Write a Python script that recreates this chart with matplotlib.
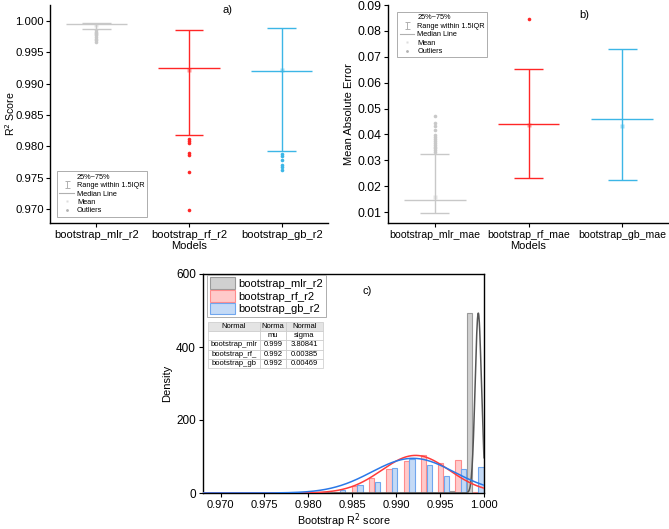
import numpy as np
import matplotlib
matplotlib.use("Agg")
import matplotlib.pyplot as plt
from matplotlib.patches import Patch
from matplotlib.lines import Line2D

plt.rcParams['font.family'] = ['Liberation Sans', 'DejaVu Sans']
plt.rcParams['axes.linewidth'] = 1.0

# ---------------- data: panel a (R2 box charts) ----------------
r2_models = ['bootstrap_mlr_r2', 'bootstrap_rf_r2', 'bootstrap_gb_r2']
r2_lower = [0.99867, 0.98176, 0.97920]
r2_median = [0.99947, 0.99245, 0.99207]
r2_upper = [0.99963, 0.99861, 0.99883]
r2_mean = [0.99935, 0.99218, 0.99225]
r2_out_mlr = [0.9985, 0.9983, 0.9981, 0.9979, 0.9977, 0.9975, 0.9972, 0.9969, 0.9966]
r2_out_rf = [0.9811, 0.9809, 0.9806, 0.9789, 0.9786, 0.9759, 0.9699]
r2_out_gb = [0.9788, 0.9784, 0.9779, 0.9771, 0.9767, 0.9762]

# ---------------- data: panel b (MAE box charts) ----------------
mae_models = ['bootstrap_mlr_mae', 'bootstrap_rf_mae', 'bootstrap_gb_mae']
mae_lower = [0.00962, 0.0233, 0.02256]
mae_median = [0.01453, 0.0439, 0.0458]
mae_upper = [0.03225, 0.0653, 0.0729]
mae_mean = [0.01582, 0.0435, 0.0431]
mae_out_mlr = [0.0472, 0.0443, 0.0433, 0.0417, 0.0396, 0.0390, 0.0382, 0.0374,
               0.0367, 0.0360, 0.0352, 0.0346, 0.0339, 0.0333]
mae_out_rf = [0.0844]
mae_out_gb = []

# ---------------- data: panel c (histograms + normal fits) ----------------
hist_labels = ['bootstrap_mlr_r2', 'bootstrap_rf_r2', 'bootstrap_gb_r2']
bin_edges = [0.98035, 0.98232, 0.98428, 0.98625, 0.98821, 0.99018,
             0.99214, 0.99411, 0.99607, 0.99804, 1.00000]
dens_mlr = [0, 0, 0, 0, 0, 0, 0, 0, 5, 493]
dens_rf = [2, 4, 20, 40, 65, 88, 104, 81, 90, 4]
dens_gb = [4, 8, 22, 30, 68, 93, 77, 47, 65, 72]
fit_mu = [0.99935, 0.9922, 0.9919]
fit_sigma = [0.00036, 0.00385, 0.00469]
fit_peak = [493, 103, 95]
table_rows = ['bootstrap_mlr', 'bootstrap_rf_', 'bootstrap_gb']
table_mu = ['0.999', '0.992', '0.992']
table_sigma = ['3.80841', '0.00385', '0.00469']

# ---------------- styles ----------------
box_colors = ['#c8c8c8', '#ff2626', '#3cb6e6']
W, H = 669, 529
fig = plt.figure(figsize=(W / 100, H / 100), dpi=100)


def fax(l, t, r, b):
    return fig.add_axes([l / W, 1 - b / H, (r - l) / W, (b - t) / H])


def box_chart(ax, lower, median, upper, mean, outliers, colors):
    for i in range(len(median)):
        c = colors[i]
        ax.vlines(i, lower[i], upper[i], color=c, lw=1.0, zorder=2)
        ax.hlines([lower[i], upper[i]], i - 0.155, i + 0.155, color=c, lw=1.0, zorder=2)
        ax.hlines(median[i], i - 0.33, i + 0.33, color=c, lw=1.0, zorder=3)
        ax.plot([i], [mean[i]], marker='s', ms=2.6, color=c, alpha=0.45, mec='none', zorder=4)
        if len(outliers[i]):
            ax.plot([i] * len(outliers[i]), outliers[i], 'o', ms=2.6, color=c, mec='none', zorder=4)


def box_legend(ax, **kw):
    eb = ax.errorbar([np.nan], [np.nan], yerr=[[1], [1]], fmt='none', ecolor='#b0b0b0',
                     capsize=1.8, elinewidth=0.7, capthick=0.7)
    handles = [Line2D([], [], color='none'),
               eb,
               Line2D([], [], color='#b0b0b0', lw=0.8),
               Line2D([], [], ls='none', marker='s', ms=2, color='#dddddd', mec='none'),
               Line2D([], [], ls='none', marker='o', ms=2, color='#b0b0b0', mec='none')]
    labels = ['25%~75%', 'Range within 1.5IQR', 'Median Line', 'Mean', 'Outliers']
    leg = ax.legend(handles, labels, fontsize=5.3, frameon=True, fancybox=False,
                    edgecolor='#a0a0a0', framealpha=1, handlelength=2.0,
                    handletextpad=0.4, labelspacing=0.18, borderpad=0.3, **kw)
    leg.get_frame().set_linewidth(0.6)
    return leg


# ---------------- panel a ----------------
axa = fax(50, 5, 328, 223)
box_chart(axa, r2_lower, r2_median, r2_upper, r2_mean,
          [r2_out_mlr, r2_out_rf, r2_out_gb], box_colors)
axa.set_xlim(-0.5, 2.5)
axa.set_ylim(0.96777, 1.00255)
axa.set_yticks([0.970, 0.975, 0.980, 0.985, 0.990, 0.995, 1.000])
axa.set_yticklabels(['0.970', '0.975', '0.980', '0.985', '0.990', '0.995', '1.000'])
axa.set_xticks(range(3))
axa.set_xticklabels(r2_models)
axa.spines['top'].set_visible(False)
axa.spines['right'].set_visible(False)
axa.tick_params(length=3, width=0.8, pad=2)
axa.tick_params(axis='x', labelsize=8)
axa.tick_params(axis='y', labelsize=8.2, pad=1.5)
axa.set_ylabel('R$^2$ Score', fontsize=7.6)
axa.yaxis.set_label_coords(-0.118, 0.5)
axa.set_xlabel('Models', fontsize=8, labelpad=1)
axa.text(0.637, 0.975, 'a)', transform=axa.transAxes, fontsize=8, ha='center', va='center')
box_legend(axa, loc='lower left', bbox_to_anchor=(0.012, 0.012))

# ---------------- panel b ----------------
axb = fax(388, 5, 669, 223)
box_chart(axb, mae_lower, mae_median, mae_upper, mae_mean,
          [mae_out_mlr, mae_out_rf, mae_out_gb], box_colors)
axb.set_xlim(-0.5, 2.5)
axb.set_ylim(0.00575, 0.09)
axb.set_yticks([0.01, 0.02, 0.03, 0.04, 0.05, 0.06, 0.07, 0.08, 0.09])
axb.set_yticklabels(['0.01', '0.02', '0.03', '0.04', '0.05', '0.06', '0.07', '0.08', '0.09'])
axb.set_xticks(range(3))
axb.set_xticklabels(mae_models)
axb.spines['top'].set_visible(False)
axb.spines['right'].set_visible(False)
axb.tick_params(length=3, width=0.8, pad=2)
axb.tick_params(axis='x', labelsize=7.6)
axb.tick_params(axis='y', labelsize=8.8)
axb.set_ylabel('Mean Absolute Error', fontsize=8, labelpad=2)
axb.set_xlabel('Models', fontsize=8, labelpad=1)
axb.text(0.70, 0.955, 'b)', transform=axb.transAxes, fontsize=8, ha='center', va='center')
box_legend(axb, loc='upper left', bbox_to_anchor=(0.02, 0.985))

# ---------------- panel c ----------------
axc = fax(203, 274, 484, 493)
edges = np.array(bin_edges)
left = edges[:-1]
bw = np.diff(edges)
sub = bw / 3.0
fills = ['#d0d0d0', '#ffcaca', '#c4daf6']
edgecs = ['#9a9a9a', '#ff8c8c', '#70a6ee']
for j, dens in enumerate([dens_mlr, dens_rf, dens_gb]):
    axc.bar(left + j * sub, dens, width=sub * 0.92, align='edge', color=fills[j],
            edgecolor=edgecs[j], linewidth=0.8, zorder=2)
xs = np.linspace(0.968, 1.0, 1200)
curve_cols = ['#555555', '#ff3a3a', '#2a78e8']
for k in range(3):
    ys = fit_peak[k] * np.exp(-0.5 * ((xs - fit_mu[k]) / fit_sigma[k]) ** 2)
    axc.plot(xs, ys, color=curve_cols[k], lw=1.1, zorder=3)
axc.set_xlim(0.968, 1.000)
axc.set_ylim(0, 600)
axc.set_xticks([0.970, 0.975, 0.980, 0.985, 0.990, 0.995, 1.000])
axc.set_xticklabels(['0.970', '0.975', '0.980', '0.985', '0.990', '0.995', '1.000'])
axc.set_yticks([0, 200, 400, 600])
axc.tick_params(length=3, width=0.8, pad=2)
axc.tick_params(axis='x', labelsize=8)
axc.tick_params(axis='y', labelsize=8.5)
axc.set_xlabel('Bootstrap R$^2$ score', fontsize=7.8)
axc.xaxis.set_label_coords(0.5, -0.085)
axc.set_ylabel('Density', fontsize=8, labelpad=3)
axc.text(0.584, 0.922, 'c)', transform=axc.transAxes, fontsize=8, ha='center', va='center')
handles = [Patch(facecolor=fills[j], edgecolor=edgecs[j], lw=0.8) for j in range(3)]
leg = axc.legend(handles, hist_labels, loc='upper left', bbox_to_anchor=(0.012, 1.0),
                 fontsize=8, frameon=True, fancybox=False, edgecolor='#a0a0a0',
                 framealpha=1, handlelength=2.3, handleheight=1.2, handletextpad=0.3,
                 labelspacing=0.12, borderpad=0.2, borderaxespad=0.1)
leg.get_frame().set_linewidth(0.6)

cell_text = [['Normal', 'Norma', 'Normal'], ['', 'mu', 'sigma']]
for r, m, s in zip(table_rows, table_mu, table_sigma):
    cell_text.append([r, m, s])
tb = axc.table(cellText=cell_text, cellLoc='center',
               colWidths=[52 / 281, 26 / 281, 37 / 281],
               bbox=[0.018, 0.571, 0.409, 0.21], zorder=5)
tb.auto_set_font_size(False)
tb.set_fontsize(5.5)
for (ri, ci), cell in tb.get_celld().items():
    cell.set_edgecolor('#c8c8c8')
    cell.set_linewidth(0.5)
    cell.PAD = 0.02
    if ri == 0:
        cell.set_facecolor('#e4e4e4')

fig.savefig('out.png', dpi=100)
